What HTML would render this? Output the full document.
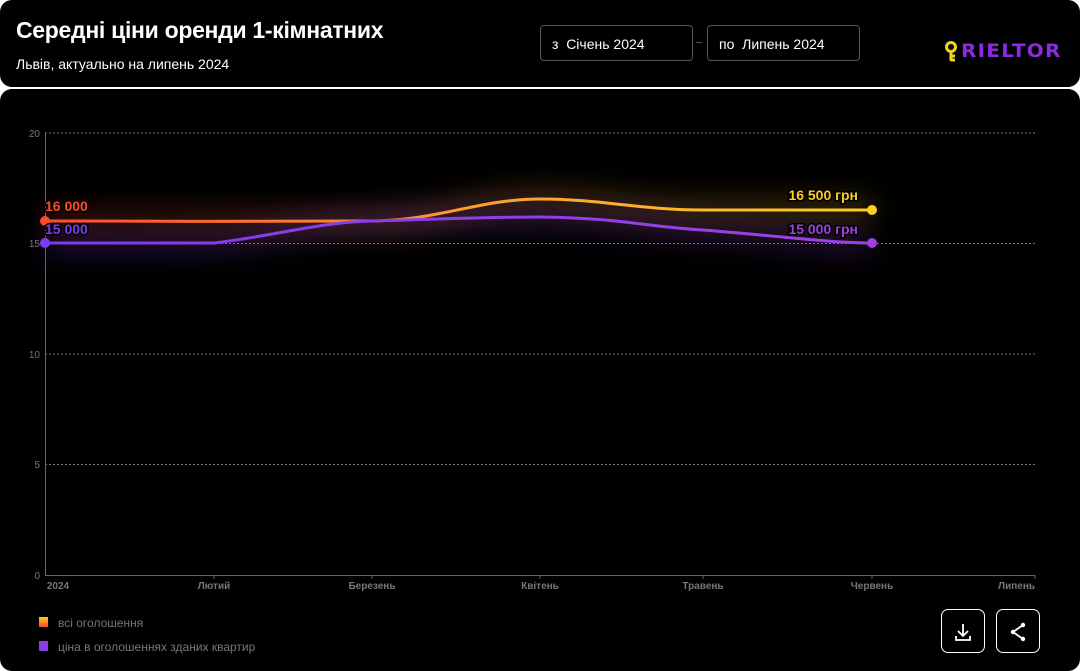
<!DOCTYPE html>
<html><head><meta charset="utf-8"><style>
html,body{margin:0;padding:0;background:#fff;width:1080px;height:671px;overflow:hidden;font-family:"Liberation Sans","Noto Sans CJK SC",sans-serif}
.top{position:absolute;left:0;top:0;width:1080px;height:87px;background:#000;border-radius:12px}
.card{position:absolute;left:0;top:89px;width:1080px;height:582px;background:#000;border-radius:12px}
h1{position:absolute;left:16px;top:17px;margin:0;color:#fff;font-size:23px;font-weight:bold;letter-spacing:-0.3px}
.sub{position:absolute;left:16px;top:56px;color:#fff;font-size:14px}
.box{position:absolute;top:25px;height:36px;border:1px solid #555;border-radius:4px;color:#fff;font-size:14px;line-height:36px;box-sizing:border-box;padding-left:11px}
.btn{position:absolute;top:609px;width:44px;height:44px;border:1px solid #fff;border-radius:7px;box-sizing:border-box}
</style></head><body>
<div class="top"></div>
<div class="card"></div>
<h1>Середні ціни оренди 1-кімнатних</h1>
<div class="sub">Львів, актуально на липень 2024</div>
<div class="box" style="left:540px;width:153px">з&nbsp; Січень 2024</div>
<div style="position:absolute;left:696px;top:42px;width:6px;height:1px;background:#555"></div>
<div class="box" style="left:707px;width:153px">по&nbsp; Липень 2024</div>
<svg width="20" height="22" style="position:absolute;left:944px;top:41px"><circle cx="7" cy="6" r="4.5" fill="none" stroke="#f5d020" stroke-width="3"/><path d="M7,10 v10 M7,15 h4 M7,19 h4" stroke="#f5d020" stroke-width="3"/></svg>
<div style="position:absolute;left:961px;top:40px;color:#8a2be2;font-size:19px;font-weight:900;letter-spacing:1.2px;font-family:'DejaVu Sans',sans-serif;transform:scaleX(1.05);transform-origin:left">RIELTOR</div>
<svg width="1080" height="671" style="position:absolute;left:0;top:0">
<defs>
<linearGradient id="go" x1="45" x2="872" gradientUnits="userSpaceOnUse"><stop offset="0" stop-color="#ff4a2a"/><stop offset="0.5" stop-color="#ff9a30"/><stop offset="1" stop-color="#ffcc20"/></linearGradient>
<linearGradient id="gp" x1="45" x2="872" gradientUnits="userSpaceOnUse"><stop offset="0" stop-color="#7b3cf0"/><stop offset="1" stop-color="#a040e0"/></linearGradient>
<filter id="bl" x="-20%" y="-200%" width="140%" height="500%"><feGaussianBlur stdDeviation="14"/></filter>
</defs>
<g stroke="#777" stroke-dasharray="2,2" stroke-width="1">
<line x1="45" x2="1035" y1="133" y2="133"/><line x1="45" x2="1035" y1="243.5" y2="243.5"/><line x1="45" x2="1035" y1="354" y2="354"/><line x1="45" x2="1035" y1="464.5" y2="464.5"/>
</g>
<line x1="45.5" y1="133" x2="45.5" y2="575" stroke="#666"/>
<line x1="45" y1="575.5" x2="1035" y2="575.5" stroke="#666"/>
<g stroke="#666"><line x1="214" x2="214" y1="575" y2="579"/><line x1="372" x2="372" y1="575" y2="579"/><line x1="540" x2="540" y1="575" y2="579"/><line x1="703" x2="703" y1="575" y2="579"/><line x1="872" x2="872" y1="575" y2="579"/><line x1="1035" x2="1035" y1="575" y2="579"/></g>
<g fill="#777" font-size="10" text-anchor="end"><text x="40" y="137">20</text><text x="40" y="247">15</text><text x="40" y="358">10</text><text x="40" y="468">5</text><text x="40" y="579">0</text></g>
<g fill="#777" font-size="10" font-weight="bold" text-anchor="middle"><text x="58" y="589">2024</text><text x="214" y="589">Лютий</text><text x="372" y="589">Березень</text><text x="540" y="589">Квітень</text><text x="703" y="589">Травень</text><text x="872" y="589">Червень</text><text x="1035" y="589" text-anchor="end">Липень</text></g>
<path d="M45,221 C130,221 300,222 372,221 C440,220 480,199 540,199 C600,199 640,210 703,210 L872,210" stroke="url(#go)" stroke-width="14" fill="none" opacity="0.35" filter="url(#bl)"/>
<path d="M45,243 C130,243 150,243 214,243 C280,235 320,222 372,221 C440,219 480,217 540,217 C620,218 640,226 703,230 C780,236 830,243 872,243" stroke="url(#gp)" stroke-width="14" fill="none" opacity="0.35" filter="url(#bl)"/>
<path d="M45,221 C130,221 300,222 372,221 C440,220 480,199 540,199 C600,199 640,210 703,210 L872,210" stroke="url(#go)" stroke-width="3" fill="none"/>
<path d="M45,243 C130,243 150,243 214,243 C280,235 320,222 372,221 C440,219 480,217 540,217 C620,218 640,226 703,230 C780,236 830,243 872,243" stroke="url(#gp)" stroke-width="3" fill="none"/>
<circle cx="45" cy="221" r="5" fill="#ff4a2a"/><circle cx="45" cy="243" r="5" fill="#7b3cf0"/>
<circle cx="872" cy="210" r="5" fill="#ffcc20"/><circle cx="872" cy="243" r="5" fill="#a040e0"/>
<g font-size="14" font-weight="bold" stroke="#000" stroke-width="3" paint-order="stroke">
<text x="45" y="211" fill="#ff4a2a">16 000</text><text x="45" y="234" fill="#7b3cf0">15 000</text>
<text x="858" y="200" fill="#ffcc20" text-anchor="end">16 500 грн</text><text x="858" y="234" fill="#a040e0" text-anchor="end">15 000 грн</text>
</g>
<defs><linearGradient id="lo" x1="0" y1="0" x2="0" y2="1"><stop offset="0" stop-color="#ffcc20"/><stop offset="1" stop-color="#ff4a2a"/></linearGradient></defs>
<rect x="39" y="617" width="9" height="10" fill="url(#lo)"/><rect x="39" y="641" width="9" height="10" fill="#8a3ce8"/>
<g fill="#777" font-size="12"><text x="58" y="627">всі оголошення</text><text x="58" y="651">ціна в оголошеннях зданих квартир</text></g>
<g stroke="#fff" stroke-width="1.8" fill="none"><path d="M963,624 v12 M958,631 l5,5 l5,-5 M956,636 v4 h14 v-4"/>
<path d="M1023,625 L1013,632 L1023,639"/></g>
<g fill="#fff"><circle cx="1023" cy="625" r="2.2"/><circle cx="1013" cy="632" r="2.2"/><circle cx="1023" cy="639" r="2.2"/></g>
</svg>
<div class="btn" style="left:941px"></div><div class="btn" style="left:996px"></div>
</body></html>
